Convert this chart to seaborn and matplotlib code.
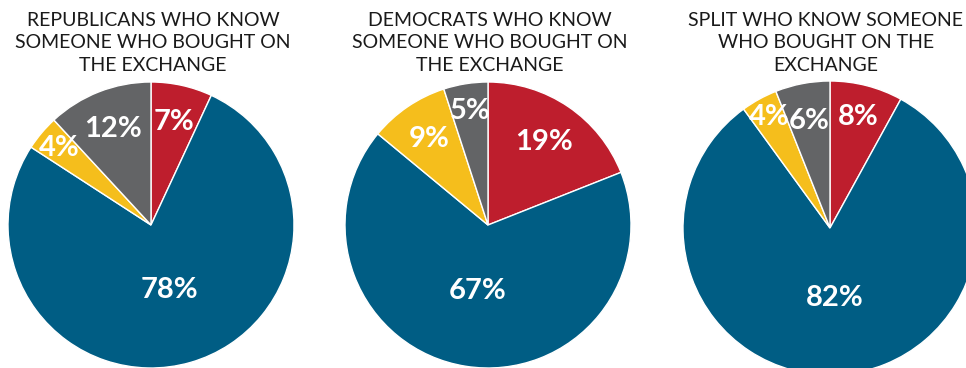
import numpy as np
import matplotlib.pyplot as plt
import seaborn as sns

# slices go clockwise from 12 o'clock: red, blue, yellow, gray
groups = ["REPUBLICANS WHO KNOW\nSOMEONE WHO BOUGHT ON\nTHE EXCHANGE",
          "DEMOCRATS WHO KNOW\nSOMEONE WHO BOUGHT ON\nTHE EXCHANGE",
          "SPLIT WHO KNOW SOMEONE\nWHO BOUGHT ON THE\nEXCHANGE"]
red_vals = [7, 19, 8]
blue_vals = [78, 67, 82]
yellow_vals = [4, 9, 4]
gray_vals = [12, 5, 6]

colors = ["#BE1E2D", "#005D84", "#F5BE1C", "#636466"]

sns.set_theme(style="white")
plt.rcParams['font.family'] = ['Lato', 'DejaVu Sans']

W, H = 966, 368
fig = plt.figure(figsize=(W / 100, H / 100), dpi=100)

# pixel layout of each pie: center x, center y (from top), radius
layout = [(151, 225, 143), (488, 225, 143), (830, 228, 147)]
title_x = [153, 490, 826]
label_dist = [[0.74, 0.47, 0.84, 0.72],
              [0.70, 0.47, 0.73, 0.81],
              [0.78, 0.48, 0.86, 0.74]]

for i, title in enumerate(groups):
    vals = [red_vals[i], blue_vals[i], yellow_vals[i], gray_vals[i]]
    cx, cy, r = layout[i]
    ax = fig.add_axes([(cx - r) / W, (H - cy - r) / H, 2 * r / W, 2 * r / H])
    wedges, _ = ax.pie(vals, colors=colors, startangle=90, counterclock=False,
                       wedgeprops=dict(edgecolor="white", linewidth=1))
    for w in wedges:
        w.set_clip_on(False)
    ax.set_xlim(-1, 1)
    ax.set_ylim(-1, 1)
    ax.set_aspect("equal")
    ax.axis("off")
    for w, v, d in zip(wedges, vals, label_dist[i]):
        mid = np.deg2rad((w.theta1 + w.theta2) / 2)
        ax.text(d * np.cos(mid), d * np.sin(mid), f"{v}%", color="white",
                fontsize=21, fontweight="bold", ha="center", va="center",
                clip_on=False)
    fig.text(title_x[i] / W, 1 - 12 / H, title, ha="center", va="top",
             fontsize=14, color="#1a1a1a", linespacing=1.38)

fig.savefig("out.png", dpi=100)
